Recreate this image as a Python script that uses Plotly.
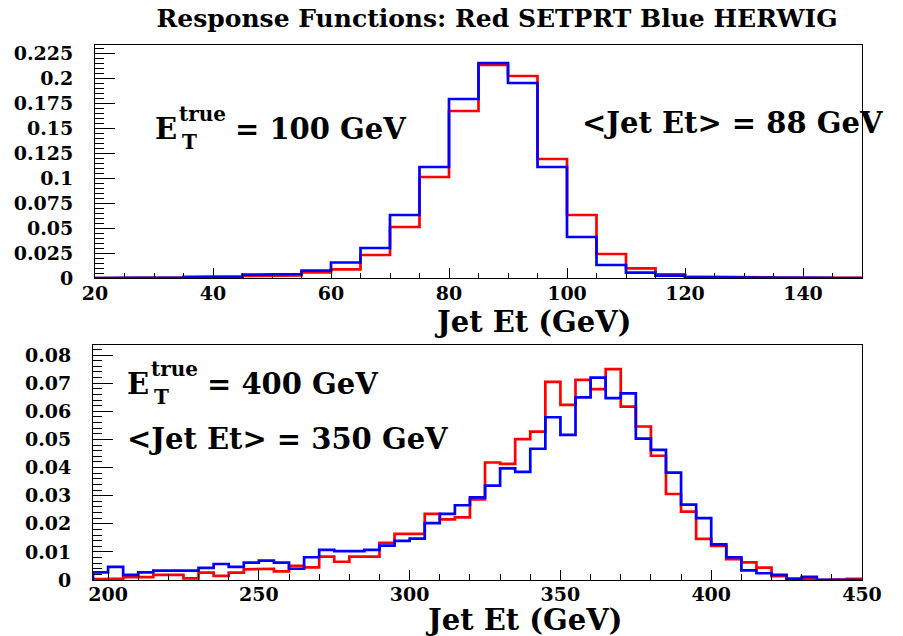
import plotly.graph_objects as go

# ---- Histogram contents (5 GeV bins, values = fraction of jets per bin) ----
# E_T(true) = 100 GeV sample, bins starting at 20 GeV
top_bin_low = list(range(20, 150, 5))
top_setprt = [0.0, 0.0, 0.0005, 0.001, 0.0013, 0.002, 0.0025, 0.0057, 0.0087, 0.023,
              0.051, 0.101, 0.167, 0.213, 0.202, 0.119, 0.063, 0.024, 0.0097, 0.0037,
              0.0013, 0.0008, 0.0006, 0.0004, 0.0002, 0.0001]
top_herwig = [0.0, 0.0, 0.0005, 0.0008, 0.0013, 0.0033, 0.004, 0.0073, 0.0155, 0.030,
              0.063, 0.111, 0.179, 0.215, 0.195, 0.111, 0.041, 0.013, 0.0053, 0.0023,
              0.0008, 0.0007, 0.0005, 0.0003, 0.0001, 0.0]

# E_T(true) = 400 GeV sample, bins starting at 195 GeV
bot_bin_low = list(range(195, 450, 5))
bot_setprt = [0.0003, 0.0004, 0.001, 0.001, 0.0018, 0.0018, 0.0006, 0.0026, 0.0015, 0.0026,
              0.0038, 0.004, 0.0031, 0.005, 0.0045, 0.0083, 0.0065, 0.0083, 0.0083, 0.0132,
              0.0164, 0.0164, 0.0235, 0.0216, 0.0223, 0.0287, 0.0418, 0.0413, 0.0501, 0.0528,
              0.0705, 0.0623, 0.0712, 0.0679, 0.075, 0.0617, 0.0546, 0.0442, 0.0306, 0.0243,
              0.0146, 0.0121, 0.0074, 0.0063, 0.0044, 0.0014, 0.0002, 0.0005, 0.0, 0.0002,
              0.0004]
bot_herwig = [0.0027, 0.0047, 0.0018, 0.0027, 0.0033, 0.0033, 0.0033, 0.0043, 0.0057, 0.0047,
              0.0062, 0.0069, 0.0062, 0.004, 0.0081, 0.0107, 0.0103, 0.0103, 0.0107, 0.0122,
              0.0139, 0.0147, 0.0202, 0.0235, 0.0266, 0.0294, 0.0336, 0.0397, 0.0385, 0.0467,
              0.0579, 0.0516, 0.065, 0.072, 0.0647, 0.0664, 0.0503, 0.0463, 0.0382, 0.0268,
              0.022, 0.0127, 0.0081, 0.0034, 0.0024, 0.0018, 0.0005, 0.0011, 0.0001, 0.0,
              0.0]
bin_width = 5

# ---- Tick labels ----
top_x_ticks = [20, 40, 60, 80, 100, 120, 140]
top_y_ticks = [0, 0.025, 0.05, 0.075, 0.1, 0.125, 0.15, 0.175, 0.2, 0.225]
top_y_labels = ["0", "0.025", "0.05", "0.075", "0.1", "0.125", "0.15", "0.175", "0.2", "0.225"]
bot_x_ticks = [200, 250, 300, 350, 400, 450]
bot_y_ticks = [0, 0.01, 0.02, 0.03, 0.04, 0.05, 0.06, 0.07, 0.08]
bot_y_labels = ["0", "0.01", "0.02", "0.03", "0.04", "0.05", "0.06", "0.07", "0.08"]

W, H = 903, 636
FONT = "DejaVu Serif"
RED = "#ff0000"
BLUE = "#0000ff"


def outline(lows, vals, w):
    """Step outline of a histogram, closed down to zero at both ends."""
    xs, ys = [lows[0]], [0.0]
    for lo, v in zip(lows, vals):
        xs += [lo, lo + w]
        ys += [v, v]
    xs.append(lows[-1] + w)
    ys.append(0.0)
    return xs, ys


def px(x):
    return x / W


def py(y):
    return 1 - y / H


fig = go.Figure()
for lows, vals, color, xa, ya in [
    (top_bin_low, top_setprt, RED, "x", "y"),
    (top_bin_low, top_herwig, BLUE, "x", "y"),
    (bot_bin_low, bot_setprt, RED, "x2", "y2"),
    (bot_bin_low, bot_herwig, BLUE, "x2", "y2"),
]:
    xs, ys = outline(lows, vals, bin_width)
    fig.add_trace(go.Scatter(x=xs, y=ys, mode="lines", xaxis=xa, yaxis=ya,
                             line=dict(color=color, width=2.7), showlegend=False,
                             hoverinfo="skip"))

tick_font = dict(family=FONT, size=19, color="black", weight="bold")
common = dict(showline=True, mirror=True, linecolor="black", linewidth=1,
              showgrid=False, zeroline=False, ticks="inside", tickcolor="black",
              tickfont=tick_font, automargin=False)

fig.update_layout(
    width=W, height=H,
    margin=dict(l=0, r=0, t=0, b=0, autoexpand=False),
    paper_bgcolor="white", plot_bgcolor="white",
    title=dict(text="Response Functions: Red SETPRT Blue HERWIG",
               x=px(497), y=py(18), xanchor="center", yanchor="middle",
               font=dict(family=FONT, size=25, color="black", weight="bold")),
    xaxis=dict(domain=[px(95), px(862)], range=[20, 150], anchor="y",
               tickvals=top_x_ticks, ticklen=10, ticklabelstandoff=-2,
               minor=dict(dtick=5, tick0=20, ticks="inside", ticklen=5, tickcolor="black"),
               **common),
    yaxis=dict(domain=[py(278), py(45)], range=[0, 0.233], anchor="x",
               tickvals=top_y_ticks, ticktext=top_y_labels, ticklen=20,
               ticklabelstandoff=17,
               minor=dict(dtick=0.005, tick0=0, ticks="inside", ticklen=9, tickcolor="black"),
               **common),
    xaxis2=dict(domain=[px(93), px(862)], range=[195, 450], anchor="y2",
                tickvals=bot_x_ticks, ticklen=10, ticklabelstandoff=-3,
                minor=dict(dtick=10, tick0=200, ticks="inside", ticklen=6, tickcolor="black"),
                **common),
    yaxis2=dict(domain=[py(580), py(345)], range=[0, 0.0836], anchor="x2",
                tickvals=bot_y_ticks, ticktext=bot_y_labels, ticklen=20,
                ticklabelstandoff=17,
                minor=dict(dtick=0.002, tick0=0, ticks="inside", ticklen=9, tickcolor="black"),
                **common),
)

big = dict(family=FONT, size=29, color="black", weight="bold")
small = dict(family=FONT, size=20, color="black", weight="bold")


def label(x, y, text, font, anchor="left"):
    fig.add_annotation(xref="paper", yref="paper", x=px(x), y=py(y), text=text,
                       showarrow=False, xanchor=anchor, yanchor="middle", font=font)


def etrue(x, y, value_text):
    # E with stacked superscript "true" and subscript "T"
    label(x, y, "E", big)
    label(x + 24, y - 15, "true", small)
    label(x + 27, y + 13, "T", small)
    label(x + 80, y, value_text, big)


etrue(153, 129, "= 100 GeV")
label(732, 123, "&lt;Jet Et&gt; = 88 GeV", big, anchor="center")
etrue(125, 384, "= 400 GeV")
label(125, 439, "&lt;Jet Et&gt; = 350 GeV", big)

axis_title_font = dict(family=FONT, size=29, color="black", weight="bold")
label(532, 322, "Jet Et (GeV)", axis_title_font, anchor="center")
label(523, 620, "Jet Et (GeV)", axis_title_font, anchor="center")

fig.write_html("out.html")
